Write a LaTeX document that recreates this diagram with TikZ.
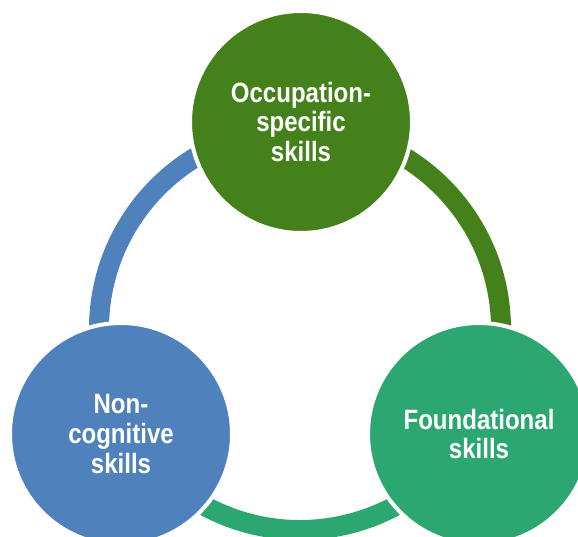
\documentclass[tikz,border=0pt]{standalone}
\usepackage{fontspec}
\setmainfont{Liberation Sans}[FakeStretch=0.86]
\usetikzlibrary{positioning, calc}

\definecolor{occgreen}{HTML}{45811A}
\definecolor{fndgreen}{HTML}{2DA771}
\definecolor{ncgblue}{HTML}{4F81BD}

\begin{document}
\begin{tikzpicture}[
    ring/.style={line width=0.4cm},
    skill/.style={circle, draw=white, line width=0.08cm, minimum size=4.44cm, inner sep=0pt, outer sep=0pt,
                  text=white, align=center, font=\fontsize{15.9}{17}\selectfont\bfseries}
  ]
           \useasboundingbox (0,0) rectangle (11.56,10.72);
           \coordinate (C) at (6.00,4.14);

           % ring pieces between the circles
           \draw[ring, ncgblue] ($(C)+(90:4.02)$) arc[start angle=90, end angle=210, radius=4.02];
           \draw[ring, occgreen] ($(C)+(90:4.02)$) arc[start angle=90, end angle=-30, radius=4.02];
           \draw[ring, fndgreen] ($(C)+(-30:4.02)$) arc[start angle=-30, end angle=-150, radius=4.02];

           % the three skill circles
           \node[skill, fill=occgreen] at (6.02,8.28) (OCC) {Occupation-\\specific\\skills};
           \node[skill, fill=fndgreen] at (9.58,2.04) (FND) {Foundational\\skills};
           \node[skill, fill=ncgblue] at (2.42,2.04) (NCG) {Non-\\cognitive\\skills};
\end{tikzpicture}
\end{document}
